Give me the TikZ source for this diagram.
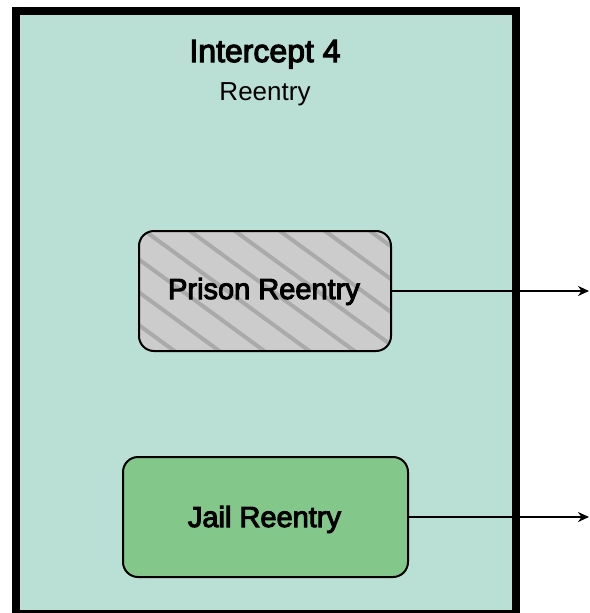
\documentclass[tikz,border=0pt]{standalone}
\usepackage{fontspec}
\setmainfont{Liberation Sans}
\newfontfamily\medfont[FakeBold=3.5]{Liberation Sans}
\usetikzlibrary{arrows.meta}
\definecolor{panelgreen}{HTML}{BAE0D5}
\definecolor{prisongray}{HTML}{CCCCCC}
\definecolor{hatchgray}{HTML}{AAAAAA}
\definecolor{jailgreen}{HTML}{83C78A}
\tikzset{
  panel/.style={draw=black, line width=8pt, fill=panelgreen},
  stagebox/.style={draw=black, line width=2pt, rounded corners=15pt},
  flow/.style={draw=black, line width=2pt, -{Stealth[length=11pt,width=10pt]}},
  boxlabel/.style={font=\medfont\fontsize{29}{34}\selectfont, anchor=base}
}
\begin{document}
\begin{tikzpicture}[x=1pt, y=1pt]
\useasboundingbox (0,0) rectangle (589,-613);

% intercept panel
\path[panel] (16,-11) rectangle (516,-614);
\node[font=\medfont\fontsize{32}{38}\selectfont, anchor=base] (title) at (265,-62) {Intercept 4};
\node[font=\fontsize{26}{31}\selectfont, anchor=base] (subtitle) at (265,-100) {Reentry};

% prison reentry: grey with diagonal hatching
\fill[prisongray, rounded corners=15pt] (139,-231) rectangle (391,-351);
\begin{scope}
  \clip[rounded corners=15pt] (139,-231) rectangle (391,-351);
  \foreach \k in {-8,...,6} {
    \draw[hatchgray, line width=4pt] ({190+45*\k-200},{-231+146}) -- ({190+45*\k+300},{-231-219});
  }
\end{scope}
\node[stagebox, minimum width=252pt, minimum height=120pt, inner sep=0pt] (prison) at (265,-291) {};
\node[boxlabel] (prisonlabel) at (264,-299) {Prison Reentry};

% jail reentry
\node[stagebox, fill=jailgreen, minimum width=285pt, minimum height=120pt, inner sep=0pt] (jail) at (265.5,-517) {};
\node[boxlabel] (jaillabel) at (264.5,-527) {Jail Reentry};

% outgoing flows
\coordinate (prisonout) at (589,-291);
\coordinate (jailout) at (589,-517);
\draw[flow] (prison.east) -- (prisonout);
\draw[flow] (jail.east) -- (jailout);
\end{tikzpicture}
\end{document}
